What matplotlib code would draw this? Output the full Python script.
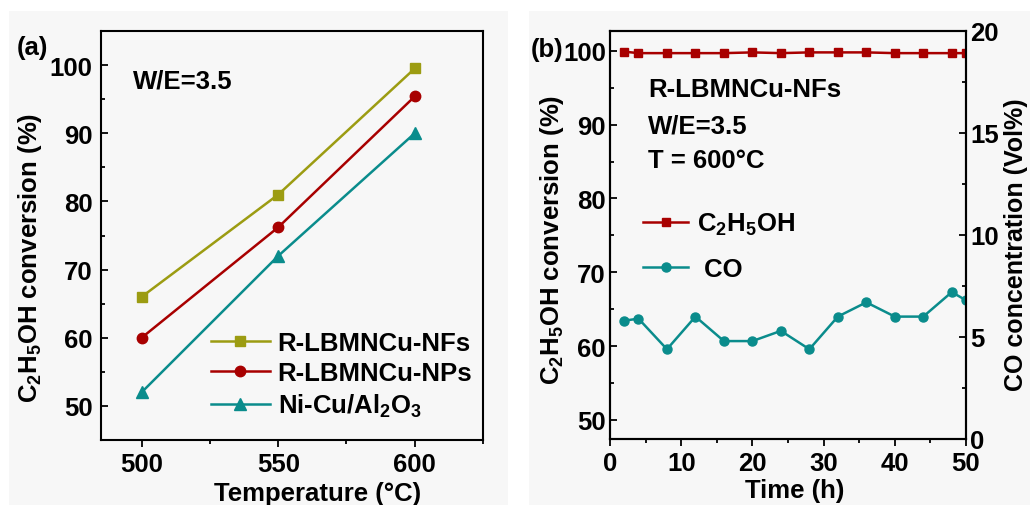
import matplotlib.pyplot as plt
from matplotlib.patches import Rectangle
from matplotlib.ticker import MultipleLocator

plt.rcParams['font.family'] = ['Liberation Sans', 'DejaVu Sans']
plt.rcParams['font.weight'] = 'bold'
plt.rcParams['mathtext.fontset'] = 'custom'
plt.rcParams['mathtext.rm'] = 'Liberation Sans:bold'
plt.rcParams['mathtext.bf'] = 'Liberation Sans:bold'
plt.rcParams['mathtext.default'] = 'bf'

# panel (a): conversion vs temperature
temps = [500, 550, 600]
conv_nfs = [66.0, 81.0, 99.5]
conv_nps = [60.0, 76.2, 95.4]
conv_nicu = [52.0, 72.0, 90.0]

# panel (b): stability test
hours = [2, 4, 8, 12, 16, 20, 24, 28, 32, 36, 40, 44, 48, 50]
conv_time = [99.9, 99.7, 99.7, 99.7, 99.7, 99.8, 99.7, 99.8, 99.8, 99.8, 99.7, 99.7, 99.7, 99.7]
co_conc = [5.8, 5.9, 4.4, 6.0, 4.8, 4.8, 5.3, 4.4, 6.0, 6.7, 6.0, 6.0, 7.2, 6.8]

olive = '#9c9c12'
red = '#a80000'
teal = '#0a8c8c'
fs = 18.5

W, H = 1030, 506
fig = plt.figure(figsize=(W / 100, H / 100), dpi=100)
fig.patches.append(Rectangle((9 / W, 0), 499 / W, 494 / H, transform=fig.transFigure,
                             facecolor='#f7f7f7', edgecolor='none', zorder=-10))
fig.patches.append(Rectangle((529 / W, 0), 501 / W, 494 / H, transform=fig.transFigure,
                             facecolor='#f7f7f7', edgecolor='none', zorder=-10))


def style(ax):
    for s in ax.spines.values():
        s.set_linewidth(1.5)
    ax.set_facecolor('none')
    ax.tick_params(axis='x', which='both', direction='out', width=1.3, labelsize=fs, top=False, pad=4)
    ax.tick_params(axis='x', which='major', length=5)
    ax.tick_params(axis='x', which='minor', length=3)
    ax.tick_params(axis='y', which='both', direction='in', width=1.3, labelsize=fs)
    ax.tick_params(axis='y', which='major', length=5)
    ax.tick_params(axis='y', which='minor', length=3)


# ---- (a)
ax1 = fig.add_axes([100.7 / W, 1 - 441 / H, 382.3 / W, 409 / H])
ax1.plot(temps, conv_nfs, '-s', color=olive, lw=1.8, ms=7, label='R-LBMNCu-NFs')
ax1.plot(temps, conv_nps, '-o', color=red, lw=1.8, ms=7.5, label='R-LBMNCu-NPs')
ax1.plot(temps, conv_nicu, '-^', color=teal, lw=1.8, ms=8, label='Ni-Cu/Al$_2$O$_3$')
ax1.set_xlim(485, 625)
ax1.set_ylim(45, 105)
ax1.set_xticks([500, 550, 600])
ax1.xaxis.set_minor_locator(MultipleLocator(25))
ax1.set_yticks([50, 60, 70, 80, 90, 100])
ax1.yaxis.set_minor_locator(MultipleLocator(5))
style(ax1)
ax1.tick_params(axis='y', which='both', right=False, pad=6)
ax1.legend(loc='upper left', bbox_to_anchor=(0.288, 0.266), frameon=False, fontsize=fs,
           handlelength=2.3, handletextpad=0.3, labelspacing=0.24, borderaxespad=0.0,
           borderpad=0.0)
ax1.text(0.0845, 0.878, 'W/E=3.5', transform=ax1.transAxes, fontsize=fs, va='center')

# ---- (b)
ax2 = fig.add_axes([610 / W, 1 - 440 / H, 356 / W, 408 / H])
ax3 = ax2.twinx()
l1, = ax2.plot(hours, conv_time, '-s', color=red, lw=1.8, ms=5.5, label='C$_2$H$_5$OH')
l2, = ax3.plot(hours, co_conc, '-o', color=teal, lw=1.8, ms=6.5, label=' CO')
ax2.set_xlim(0, 50)
ax2.set_ylim(47.4, 102.7)
ax3.set_ylim(0, 20)
ax2.set_xticks([0, 10, 20, 30, 40, 50])
ax2.xaxis.set_minor_locator(MultipleLocator(5))
ax2.set_yticks([50, 60, 70, 80, 90, 100])
ax2.yaxis.set_minor_locator(MultipleLocator(5))
ax3.set_yticks([0, 5, 10, 15, 20])
ax3.yaxis.set_minor_locator(MultipleLocator(2.5))
style(ax2)
style(ax3)
ax2.tick_params(axis='y', which='both', right=False, pad=3)
ax3.tick_params(axis='y', which='both', pad=3)
ax3.legend([l1, l2], [l1.get_label(), l2.get_label()], loc='upper left',
           bbox_to_anchor=(0.093, 0.56), frameon=False, fontsize=fs,
           handlelength=1.75, handletextpad=0.35, labelspacing=0.78, borderaxespad=0.0,
           borderpad=0.0)
for ypx, txt in [(90, 'R-LBMNCu-NFs'), (127, 'W/E=3.5'), (161, 'T = 600°C')]:
    ax2.text(0.107, (440 - ypx) / 408, txt, transform=ax2.transAxes, fontsize=fs, va='center')

# labels
fig.text(17 / W, 1 - 48 / H, '(a)', fontsize=fs, va='center')
fig.text(531 / W, 1 - 50 / H, '(b)', fontsize=fs, va='center')
fig.text(318 / W, 1 - 494 / H, 'Temperature (°C)', fontsize=fs, ha='center', va='center')
fig.text(795 / W, 1 - 491 / H, 'Time (h)', fontsize=fs, ha='center', va='center')
fig.text(30 / W, 1 - 258 / H, 'C$_2$H$_5$OH conversion (%)', fontsize=fs,
         ha='center', va='center', rotation=90)
fig.text(552 / W, 1 - 240 / H, 'C$_2$H$_5$OH conversion (%)', fontsize=fs,
         ha='center', va='center', rotation=90)
fig.text(1016 / W, 1 - 245 / H, 'CO concentration (Vol%)', fontsize=18,
         ha='center', va='center', rotation=90)

fig.savefig('out.png', dpi=100, facecolor='white')
